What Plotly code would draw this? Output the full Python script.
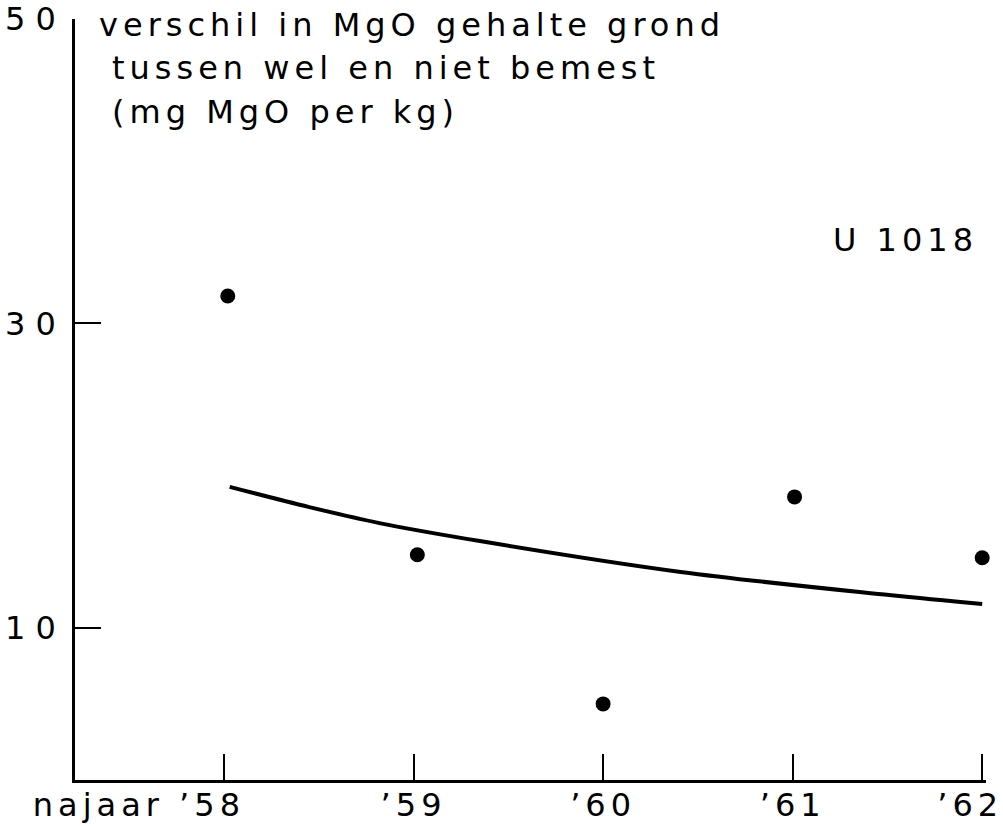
import plotly.graph_objects as go

# --- data ---
point_x = [1958.02, 1959.02, 1960.0, 1961.01, 1962.0]
mgo_diff = [31.8, 14.8, 5.0, 18.6, 14.6]

curve_x = [1958.03, 1958.45, 1958.82, 1959.35, 1960.41, 1961.51, 1962.0]
curve_y = [19.26, 17.93, 16.88, 15.70, 13.67, 12.15, 11.56]

x_tickvals = [1958, 1959, 1960, 1961, 1962]
x_ticklabels = ["najaar \u201958", "\u201959", "\u201960", "\u201961", "\u201962"]
y_tickvals = [10, 30, 50]
y_ticklabels = ["1 0", "3 0", "5 0"]

title_lines = ["verschil in MgO gehalte grond", "tussen wel en niet bemest", "(mg MgO per kg)"]
plot_label = "U 1018"

FONT = "DejaVu Sans"
TICKFONT = dict(family=FONT, size=32, color="black")
X_RANGE = [1957.214, 1962.02]

# middle labels centred under their ticks (main axis); the first and last
# labels are right-aligned at their ticks on an overlaid axis, as drawn
mid_text = ["" if i in (0, len(x_tickvals) - 1) else t for i, t in enumerate(x_ticklabels)]
end_vals = [x_tickvals[0], x_tickvals[-1]]
end_text = [x_ticklabels[0], x_ticklabels[-1]]

fig = go.Figure()
fig.add_trace(go.Scatter(
    x=curve_x, y=curve_y, mode="lines",
    line=dict(color="black", width=4, shape="spline", smoothing=1.0),
    hoverinfo="skip", showlegend=False, cliponaxis=False,
))
fig.add_trace(go.Scatter(
    x=point_x, y=mgo_diff, mode="markers",
    marker=dict(color="black", size=15),
    showlegend=False, cliponaxis=False,
))
fig.add_trace(go.Scatter(x=[], y=[], xaxis="x2", showlegend=False, hoverinfo="skip"))

# plot area in pixels: x 75..986, y 19..780
title_pos = [(0.024, 0.992), (0.038, 0.9356), (0.038, 0.8778)]
for txt, (ax, ay) in zip(title_lines, title_pos):
    fig.add_annotation(text=txt, xref="paper", yref="paper", x=ax, y=ay,
                       xanchor="left", yanchor="middle", align="left", showarrow=False,
                       font=dict(family=FONT, size=32, color="black"))
fig.add_annotation(text=plot_label, xref="paper", yref="paper", x=0.912, y=0.7096,
                   xanchor="center", yanchor="middle", showarrow=False,
                   font=dict(family=FONT, size=32, color="black"))

fig.update_layout(
    template="none",
    width=1003, height=830,
    margin=dict(l=75, r=17, t=19, b=50),
    paper_bgcolor="white", plot_bgcolor="white",
    showlegend=False,
    xaxis=dict(
        range=X_RANGE, showgrid=False, zeroline=False,
        showline=True, linecolor="black", linewidth=2.5,
        ticks="inside", ticklen=26, tickwidth=2, tickcolor="black",
        tickvals=x_tickvals, ticktext=mid_text, tickangle=0,
        tickfont=TICKFONT,
        automargin=False, ticklabelstandoff=-5, ticklabeloverflow="allow",
    ),
    xaxis2=dict(
        range=X_RANGE, overlaying="x", anchor="y", side="bottom",
        showgrid=False, zeroline=False, showline=False, ticks="",
        tickvals=end_vals, ticktext=end_text, tickangle=0,
        tickfont=TICKFONT, ticklabelposition="outside left",
        ticklabelshift=21,
        automargin=False, ticklabelstandoff=3, ticklabeloverflow="allow",
    ),
    yaxis=dict(
        range=[0, 50], showgrid=False, zeroline=False,
        showline=True, linecolor="black", linewidth=2.5,
        ticks="inside", ticklen=26, tickwidth=2, tickcolor="black",
        tickvals=y_tickvals, ticktext=y_ticklabels,
        tickfont=TICKFONT,
        automargin=False, ticklabelstandoff=10, ticklabeloverflow="allow",
    ),
)

# widen the lettering like the stencil text of the original drawing
spacing_js = (
    "document.querySelectorAll('.annotation-text, .xtick text, .x2tick text')"
    ".forEach(function(e){e.style.letterSpacing='5px';});"
)
fig.write_html("out.html", post_script=spacing_js)
